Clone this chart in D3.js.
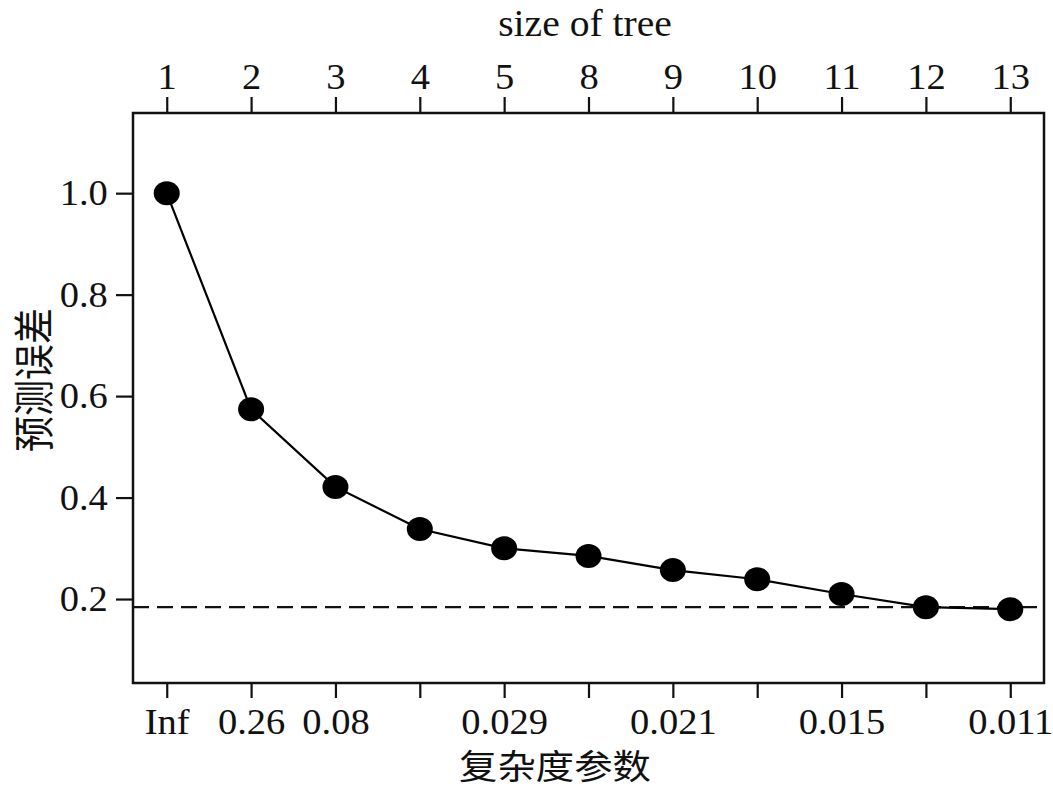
<!DOCTYPE html>
<html>
<head>
<meta charset="utf-8">
<script src="https://cdn.jsdelivr.net/npm/d3@7"></script>
<style>
  body { margin: 0; background: #fff; }
  svg { display: block; }
</style>
</head>
<body>
<div id="chart"></div>
<script>
'use strict';

// tree sizes (top axis) and complexity parameter labels (bottom axis)
const treeSizes = ["1", "2", "3", "4", "5", "8", "9", "10", "11", "12", "13"];
const cpLabels = ["Inf", "0.26", "0.08", "", "0.029", "", "0.021", "", "0.015", "", "0.011"];
// relative cross-validated error
const errValues = [1.0, 0.574, 0.421, 0.338, 0.300, 0.285, 0.257, 0.239, 0.210, 0.184, 0.180];
const yTicks = [0.2, 0.4, 0.6, 0.8, 1.0];
const refLine = 0.184;

const width = 1053;
const height = 789;
const margin = {top: 113, right: 9, bottom: 106, left: 133};

const svg = d3.select("#chart")
  .append("svg")
  .attr("width", width)
  .attr("height", height);

const xScale = d3.scalePoint()
  .domain(d3.range(treeSizes.length))
  .range([margin.left, width - margin.right])
  .padding(0.4);

const yScale = d3.scaleLinear()
  .domain([0.0345, 1.158])
  .range([height - margin.bottom, margin.top]);

const serif = "'Liberation Serif', 'Times New Roman', serif";
const cjk = "'Noto Sans CJK SC', sans-serif";

// top axis: size of tree
const topAxis = d3.axisTop(xScale)
  .tickSize(16)
  .tickPadding(8)
  .tickFormat(i => treeSizes[i]);

// bottom axis: complexity parameter
const bottomAxis = d3.axisBottom(xScale)
  .tickSize(15)
  .tickPadding(10)
  .tickFormat(i => cpLabels[i]);

const leftAxis = d3.axisLeft(yScale)
  .tickValues(yTicks)
  .tickSize(17)
  .tickPadding(6.5)
  .tickFormat(d3.format(".1f"));

function styleAxis(g) {
  g.select(".domain").remove();
  g.selectAll(".tick line").attr("stroke", "#111").attr("stroke-width", 2.2);
  g.selectAll(".tick text")
    .attr("fill", "#111")
    .attr("transform", "scale(1.07,1)")
    .style("font-family", serif)
    .style("font-size", "36px");
}

svg.append("g")
  .attr("transform", `translate(0, ${margin.top})`)
  .call(topAxis)
  .call(styleAxis);

svg.append("g")
  .attr("transform", `translate(0, ${height - margin.bottom})`)
  .call(bottomAxis)
  .call(styleAxis);

svg.append("g")
  .attr("transform", `translate(${margin.left}, 0)`)
  .call(leftAxis)
  .call(styleAxis);

// dashed reference line
svg.append("line")
  .attr("x1", margin.left)
  .attr("x2", width - margin.right)
  .attr("y1", yScale(refLine))
  .attr("y2", yScale(refLine))
  .attr("stroke", "#111")
  .attr("stroke-width", 2.2)
  .attr("stroke-dasharray", "16,8");

// error curve
const line = d3.line()
  .x((d, i) => xScale(i))
  .y(d => yScale(d));

svg.append("path")
  .datum(errValues)
  .attr("fill", "none")
  .attr("stroke", "#000")
  .attr("stroke-width", 2.2)
  .attr("d", line);

svg.append("g")
  .selectAll("ellipse")
  .data(errValues)
  .enter()
  .append("ellipse")
  .attr("cx", (d, i) => xScale(i))
  .attr("cy", d => yScale(d))
  .attr("rx", 13)
  .attr("ry", 12)
  .attr("fill", "#000");

// plot frame
svg.append("rect")
  .attr("x", margin.left)
  .attr("y", margin.top)
  .attr("width", width - margin.left - margin.right)
  .attr("height", height - margin.top - margin.bottom)
  .attr("fill", "none")
  .attr("stroke", "#111")
  .attr("stroke-width", 2.5);

// titles
svg.append("text")
  .attr("transform", "translate(585, 36) scale(1.07,1)")
  .attr("text-anchor", "middle")
  .attr("fill", "#111")
  .style("font-family", serif)
  .style("font-size", "37px")
  .text("size of tree");

svg.append("text")
  .attr("transform", "translate(555, 779) scale(1.13,1)")
  .attr("text-anchor", "middle")
  .attr("fill", "#111")
  .style("font-family", cjk)
  .style("font-size", "34px")
  .text("复杂度参数");

svg.append("text")
  .attr("transform", "translate(31, 380) scale(1.15,1) rotate(-90)")
  .attr("text-anchor", "middle")
  .attr("dominant-baseline", "central")
  .attr("fill", "#111")
  .style("font-family", cjk)
  .style("font-size", "36px")
  .text("预测误差");
</script>
</body>
</html>
